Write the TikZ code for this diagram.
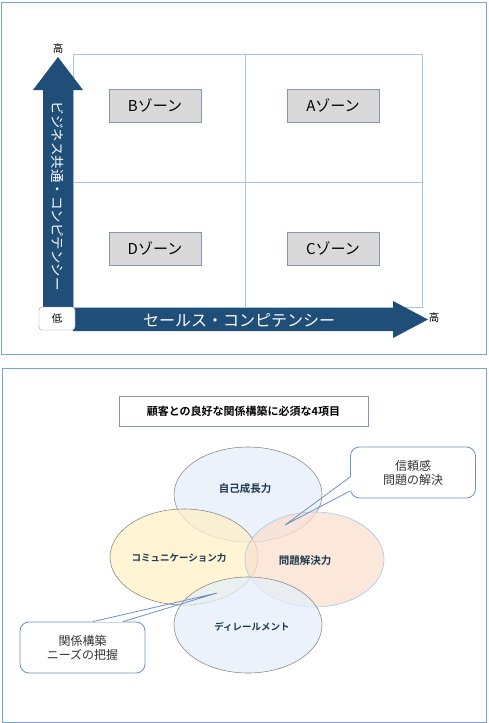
\documentclass[tikz,border=0pt]{standalone}
\usepackage{fontspec}
\setmainfont{Noto Sans CJK JP}[BoldFont={Noto Sans CJK JP Bold}]
\usetikzlibrary{positioning,calc,shapes.geometric}

\definecolor{panel}{RGB}{120,165,215}
\definecolor{gridl}{RGB}{165,198,230}
\definecolor{axis}{RGB}{31,78,121}
\definecolor{zonef}{RGB}{217,217,217}
\definecolor{zoned}{RGB}{132,151,176}
\definecolor{ovblue}{RGB}{228,238,249}
\definecolor{ovyel}{RGB}{255,240,198}
\definecolor{ovpch}{RGB}{250,224,207}
\definecolor{ovtext}{RGB}{30,58,80}
\definecolor{callb}{RGB}{110,145,195}

\begin{document}
\begin{tikzpicture}[
  x=1pt, y=-1pt,
  panelbox/.style={draw=panel, line width=0.9pt},
  gridln/.style={draw=gridl, line width=0.7pt},
  zone/.style={draw=zoned, line width=0.9pt, fill=zonef, minimum width=92pt,
               minimum height=33pt, inner sep=0pt, font=\fontsize{15}{18}\selectfont},
  axtxt/.style={text=white, inner sep=0pt},
  hilo/.style={inner sep=0pt, font=\fontsize{10.5}{12}\selectfont},
  lowbox/.style={draw=zoned, rounded corners=3pt, fill=white, minimum width=36pt,
                 minimum height=23pt, inner sep=0pt, font=\fontsize{10.5}{12}\selectfont},
  ttl/.style={draw=zoned, line width=0.8pt, minimum width=249pt, minimum height=30pt,
              inner sep=0pt, font=\bfseries\fontsize{11}{13}\selectfont},
  oval/.style={ellipse, draw=black!45, line width=0.6pt, fill opacity=0.75,
               inner sep=0pt},
  ovtxt/.style={text=ovtext, inner sep=0pt, font=\bfseries\fontsize{10.5}{12}\selectfont},
  callbox/.style={draw=callb, line width=0.8pt, rounded corners=9pt, fill=white,
                  minimum width=125pt, minimum height=51pt, inner sep=0pt, align=center,
                  font=\fontsize{12}{14}\selectfont, text=black!80},
  callln/.style={draw=callb, line width=0.8pt}
]
\useasboundingbox (0,0) rectangle (488,723);

% upper panel: competency matrix
\draw[panelbox] (1.5,2.5) rectangle (486,354);
\draw[gridln] (73,54) rectangle (422,307);
\draw[gridln] (245,54) -- (245,307);
\draw[gridln] (73,182) -- (422,182);

\foreach \z/\px/\py in {B/155/105.5, A/333/105.5, D/155/248.5, C/333/248.5}
  \node[zone] (z\z) at (\px,\py) {\z ゾーン};

\fill[axis] (43,307) -- (43,90) -- (33,90) -- (58,57) -- (83,90) -- (73,90)
  -- (73,307) -- cycle;
\fill[axis] (73,308) -- (393,308) -- (393,301) -- (428,319.5) -- (393,338)
  -- (393,331) -- (73,331) -- cycle;

\node[axtxt, rotate=-90, font=\fontsize{13.5}{15}\selectfont] (ylab) at (58,196)
  {ビジネス共通・コンピテンシー};
\node[axtxt, font=\fontsize{16}{18}\selectfont] (xlab) at (239,320)
  {セールス・コンピテンシー};
\node[hilo] (yhi) at (58,49) {高};
\node[hilo] (xhi) at (434,318) {高};
\node[lowbox] (lo) at (57,318.5) {低};

% lower panel: four items
\draw[panelbox] (2,368) rectangle (486,722);
\node[ttl] (title) at (243.5,411) {顧客との良好な関係構築に必須な4項目};

\node[oval, fill=ovblue, minimum width=148pt, minimum height=95pt] (grow) at (248,494.5) {};
\node[oval, fill=ovyel, minimum width=148pt, minimum height=96pt] (comm) at (184,557) {};
\node[oval, fill=ovpch, draw=gridl, minimum width=139pt, minimum height=95pt] (solve) at (314.5,559.5) {};
\node[oval, fill=ovblue, minimum width=148pt, minimum height=96pt] (derail) at (248,625) {};

\node[ovtxt] (growt) at (245,489) {自己成長力};
\node[ovtxt, font=\bfseries\fontsize{9.5}{11}\selectfont] (commt) at (179,558) {コミュニケーション力};
\node[ovtxt] (solvet) at (305,561) {問題解決力};
\node[ovtxt, font=\bfseries\fontsize{9.5}{11}\selectfont] (derailt) at (252,627) {ディレールメント};

% callouts
\node[callbox] (trust) at (413,472.5) {信頼感\\問題の解決};
\coordinate (trustTip) at (285,525);
\draw[white, line width=1.6pt] ($(trust.west)+(0,4.5)$) -- ($(trust.west)+(0,18.5)$);
\draw[callln] ($(trust.west)+(0,4.5)$) -- (trustTip) -- ($(trust.west)+(0,18.5)$);

\node[callbox] (needs) at (82.5,647.5) {関係構築\\ニーズの把握};
\coordinate (needsTip) at (217,593);
\draw[white, line width=1.6pt] ($(needs.north)+(10.5,0)$) -- ($(needs.north)+(40.5,0)$);
\draw[callln] ($(needs.north)+(10.5,0)$) -- (needsTip) -- ($(needs.north)+(40.5,0)$);
\end{tikzpicture}
\end{document}
